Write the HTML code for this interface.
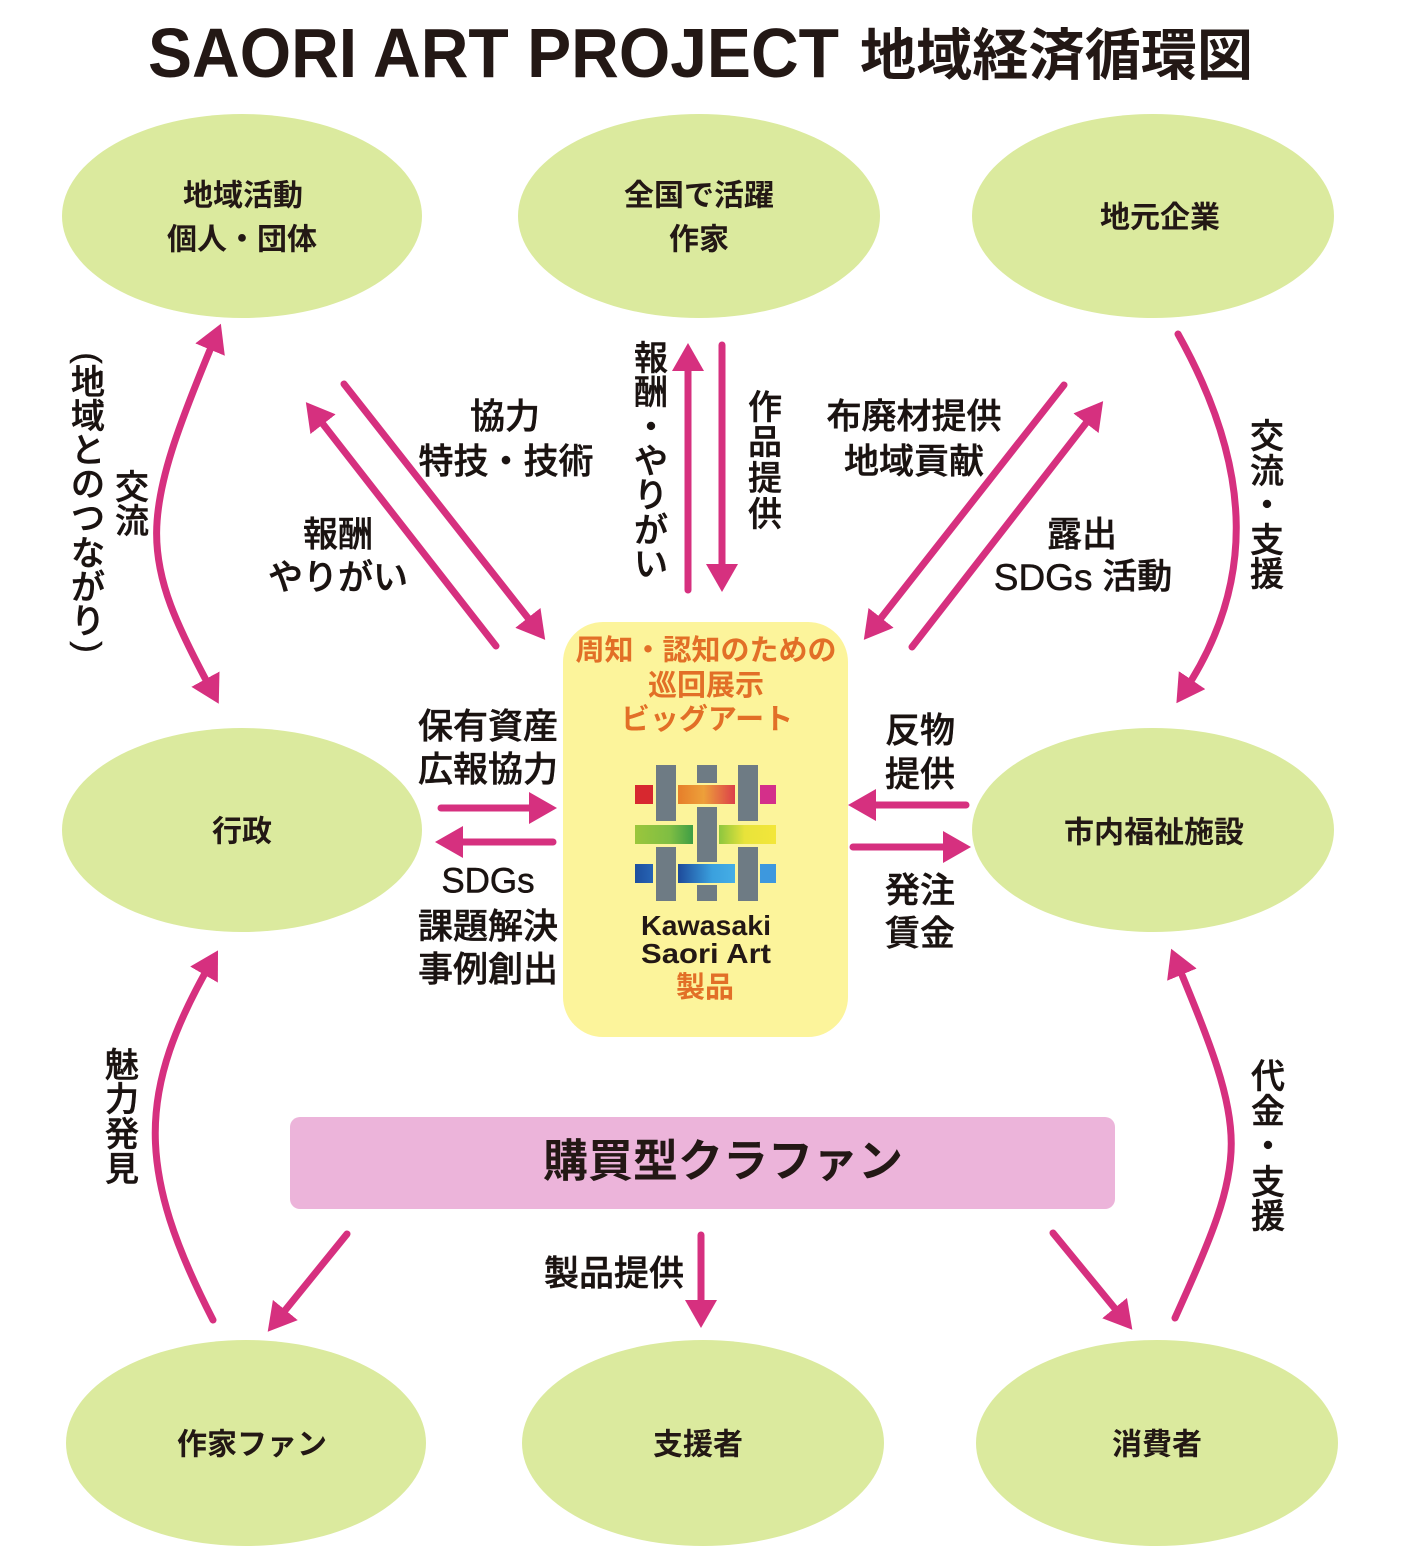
<!DOCTYPE html>
<html><head><meta charset="utf-8">
<style>
html,body{margin:0;padding:0;background:#fff;}
svg{display:block;}
text{font-family:"Liberation Sans","Noto Sans CJK JP",sans-serif;}
.lbl{font-size:35px;font-weight:500;fill:#1a1311;stroke:#1a1311;stroke-width:0.5;text-anchor:middle;dominant-baseline:central;}
.nd{font-size:30px;font-weight:700;fill:#231815;text-anchor:middle;dominant-baseline:central;}
.or{font-size:29px;font-weight:700;fill:#e26f27;text-anchor:middle;dominant-baseline:central;}
.v{font-size:34px;font-weight:500;fill:#1a1311;stroke:#1a1311;stroke-width:0.5;text-anchor:middle;dominant-baseline:central;}
.ar{fill:none;stroke:#d6307f;stroke-width:7;stroke-linecap:round;}
</style></head><body>
<svg width="1406" height="1568" viewBox="0 0 1406 1568" xmlns="http://www.w3.org/2000/svg">
<defs>
<marker id="ah" markerUnits="userSpaceOnUse" markerWidth="28" markerHeight="32" viewBox="0 0 28 32" refX="18" refY="16" orient="auto-start-reverse">
<path d="M0,0 L28,16 L0,32 Z" fill="#d6307f"/>
</marker>
<linearGradient id="gOr" x1="0" x2="1" y1="0" y2="0"><stop offset="0" stop-color="#e67e2a"/><stop offset="0.45" stop-color="#eda03a"/><stop offset="1" stop-color="#dc3f4a"/></linearGradient>
<linearGradient id="gGr" x1="0" x2="1" y1="0" y2="0"><stop offset="0" stop-color="#9bc63c"/><stop offset="0.6" stop-color="#7fbe43"/><stop offset="1" stop-color="#3e9e45"/></linearGradient>
<linearGradient id="gYe" x1="0" x2="1" y1="0" y2="0"><stop offset="0" stop-color="#8cc63f"/><stop offset="0.45" stop-color="#e8e33a"/><stop offset="1" stop-color="#f3e63a"/></linearGradient>
<linearGradient id="gBl" x1="0" x2="1" y1="0" y2="0"><stop offset="0" stop-color="#1e4a9a"/><stop offset="0.6" stop-color="#3aa0de"/><stop offset="1" stop-color="#45aee6"/></linearGradient>
<linearGradient id="gBs" x1="0" x2="1" y1="0" y2="0"><stop offset="0" stop-color="#1d4f9e"/><stop offset="1" stop-color="#2764b4"/></linearGradient>
</defs>

<!-- Title -->
<text x="148" y="77" font-size="70" font-weight="700" fill="#231815" textLength="691" lengthAdjust="spacingAndGlyphs">SAORI ART PROJECT</text>
<text x="860" y="75" font-size="56" font-weight="700" fill="#231815" textLength="393" lengthAdjust="spacingAndGlyphs">地域経済循環図</text>

<!-- Ellipses -->
<g fill="#dbea9e">
<ellipse cx="242" cy="216" rx="180" ry="102"/>
<ellipse cx="699" cy="216" rx="181" ry="102"/>
<ellipse cx="1153" cy="216" rx="181" ry="102"/>
<ellipse cx="242" cy="830" rx="180" ry="102"/>
<ellipse cx="1153" cy="830" rx="181" ry="102"/>
<ellipse cx="246" cy="1443" rx="180" ry="103"/>
<ellipse cx="703" cy="1443" rx="181" ry="103"/>
<ellipse cx="1157" cy="1443" rx="181" ry="103"/>
</g>
<text class="nd" x="243" y="196">地域活動</text>
<text class="nd" x="242" y="240">個人・団体</text>
<text class="nd" x="699" y="196">全国で活躍</text>
<text class="nd" x="699" y="240">作家</text>
<text class="nd" x="1160" y="218">地元企業</text>
<text class="nd" x="242" y="832">行政</text>
<text class="nd" x="1154" y="833">市内福祉施設</text>
<text class="nd" x="252" y="1445">作家ファン</text>
<text class="nd" x="698" y="1445">支援者</text>
<text class="nd" x="1157" y="1445">消費者</text>

<!-- Center yellow box -->
<rect x="563" y="622" width="285" height="415" rx="40" fill="#fcf49b"/>
<text class="or" x="706" y="651">周知・認知のための</text>
<text class="or" x="706" y="686">巡回展示</text>
<text class="or" x="707" y="720">ビッグアート</text>

<!-- Logo -->
<g fill="#6e7b84">
<rect x="656" y="765" width="20" height="56"/>
<rect x="656" y="847" width="20" height="54"/>
<rect x="697" y="765" width="20" height="18"/>
<rect x="697" y="807" width="20" height="55"/>
<rect x="697" y="885" width="20" height="16"/>
<rect x="738" y="765" width="20" height="56"/>
<rect x="738" y="847" width="20" height="54"/>
</g>
<rect x="635" y="785" width="18" height="19" fill="#d7282f"/>
<rect x="678" y="785" width="57" height="19" fill="url(#gOr)"/>
<rect x="760" y="785" width="16" height="19" fill="#d42f8a"/>
<rect x="635" y="825" width="58" height="19" fill="url(#gGr)"/>
<rect x="719" y="825" width="57" height="19" fill="url(#gYe)"/>
<rect x="635" y="864" width="18" height="19" fill="url(#gBs)"/>
<rect x="678" y="864" width="57" height="19" fill="url(#gBl)"/>
<rect x="760" y="864" width="16" height="19" fill="#3d98de"/>
<text x="706" y="935" font-size="28" font-weight="700" fill="#231815" text-anchor="middle" textLength="130" lengthAdjust="spacingAndGlyphs">Kawasaki</text>
<text x="706" y="963" font-size="28" font-weight="700" fill="#231815" text-anchor="middle" textLength="130" lengthAdjust="spacingAndGlyphs">Saori Art</text>
<text class="or" x="705" y="988">製品</text>

<!-- Pink box -->
<rect x="290" y="1117" width="825" height="92" rx="10" fill="#ecb4da"/>
<text x="723" y="1161" font-size="45" font-weight="700" fill="#231815" text-anchor="middle" dominant-baseline="central">購買型クラファン</text>

<!-- Arrows -->
<path class="ar" d="M217 333 C137 524 137 553 214 695" marker-start="url(#ah)" marker-end="url(#ah)"/>
<path class="ar" d="M1178 334 C1255 472 1255 587 1182 695" marker-end="url(#ah)"/>
<path class="ar" d="M213 1320 C136 1170 136 1092 213 959" marker-end="url(#ah)"/>
<path class="ar" d="M1175 1318 C1250 1152 1250 1139 1175 958" marker-end="url(#ah)"/>

<path class="ar" d="M496 646 L312 410" marker-end="url(#ah)"/>
<path class="ar" d="M344 384 L539 632" marker-end="url(#ah)"/>
<path class="ar" d="M688 590 L688 353" marker-end="url(#ah)"/>
<path class="ar" d="M722 345 L722 582" marker-end="url(#ah)"/>
<path class="ar" d="M1064 385 L870 632" marker-end="url(#ah)"/>
<path class="ar" d="M912 647 L1097 409" marker-end="url(#ah)"/>
<path class="ar" d="M441 808 L547 808" marker-end="url(#ah)"/>
<path class="ar" d="M553 842 L445 842" marker-end="url(#ah)"/>
<path class="ar" d="M966 805 L858 805" marker-end="url(#ah)"/>
<path class="ar" d="M853 847 L961 847" marker-end="url(#ah)"/>
<path class="ar" d="M347 1234 L274 1324" marker-end="url(#ah)"/>
<path class="ar" d="M701 1235 L701 1318" marker-end="url(#ah)"/>
<path class="ar" d="M1053 1233 L1126 1322" marker-end="url(#ah)"/>

<!-- Horizontal labels -->
<text class="lbl" x="505" y="417">協力</text>
<text class="lbl" x="506" y="462">特技・技術</text>
<text class="lbl" x="338" y="535">報酬</text>
<text class="lbl" x="338" y="578">やりがい</text>
<text class="lbl" x="914" y="417">布廃材提供</text>
<text class="lbl" x="914" y="462">地域貢献</text>
<text class="lbl" x="1082" y="535">露出</text>
<text class="lbl" x="1083" y="577"><tspan font-size="37">SDGs</tspan> 活動</text>
<text class="lbl" x="488" y="727">保有資産</text>
<text class="lbl" x="488" y="770">広報協力</text>
<text class="lbl" x="488" y="881" font-size="37">SDGs</text>
<text class="lbl" x="488" y="927">課題解決</text>
<text class="lbl" x="488" y="970">事例創出</text>
<text class="lbl" x="920" y="731">反物</text>
<text class="lbl" x="920" y="775">提供</text>
<text class="lbl" x="920" y="891">発注</text>
<text class="lbl" x="920" y="934">賃金</text>
<text class="lbl" x="614" y="1274">製品提供</text>

<!-- Vertical labels -->
<g class="v">
<text x="651" y="359">報</text>
<text x="651" y="393">酬</text>
<text x="651" y="428">・</text>
<text x="651" y="462">や</text>
<text x="651" y="496">り</text>
<text x="651" y="531">が</text>
<text x="651" y="565">い</text>

<text x="765" y="408">作</text>
<text x="765" y="443">品</text>
<text x="765" y="479">提</text>
<text x="765" y="515">供</text>

<text x="1267" y="437">交</text>
<text x="1267" y="472">流</text>
<text x="1267" y="506">・</text>
<text x="1267" y="541">支</text>
<text x="1267" y="575">援</text>

<text x="132" y="488">交</text>
<text x="132" y="522">流</text>

<text x="91" y="355" transform="rotate(90 88 355)">(</text>
<text x="88" y="383">地</text>
<text x="88" y="417">域</text>
<text x="88" y="451">と</text>
<text x="88" y="485">の</text>
<text x="88" y="519">つ</text>
<text x="88" y="554">な</text>
<text x="88" y="588">が</text>
<text x="88" y="622">り</text>
<text x="91" y="644" transform="rotate(90 88 644)">)</text>

<text x="122" y="1066">魅</text>
<text x="122" y="1100">力</text>
<text x="122" y="1135">発</text>
<text x="122" y="1170">見</text>

<text x="1268" y="1077">代</text>
<text x="1268" y="1112">金</text>
<text x="1268" y="1147">・</text>
<text x="1268" y="1183">支</text>
<text x="1268" y="1217">援</text>
</g>
</svg>
</body></html>
